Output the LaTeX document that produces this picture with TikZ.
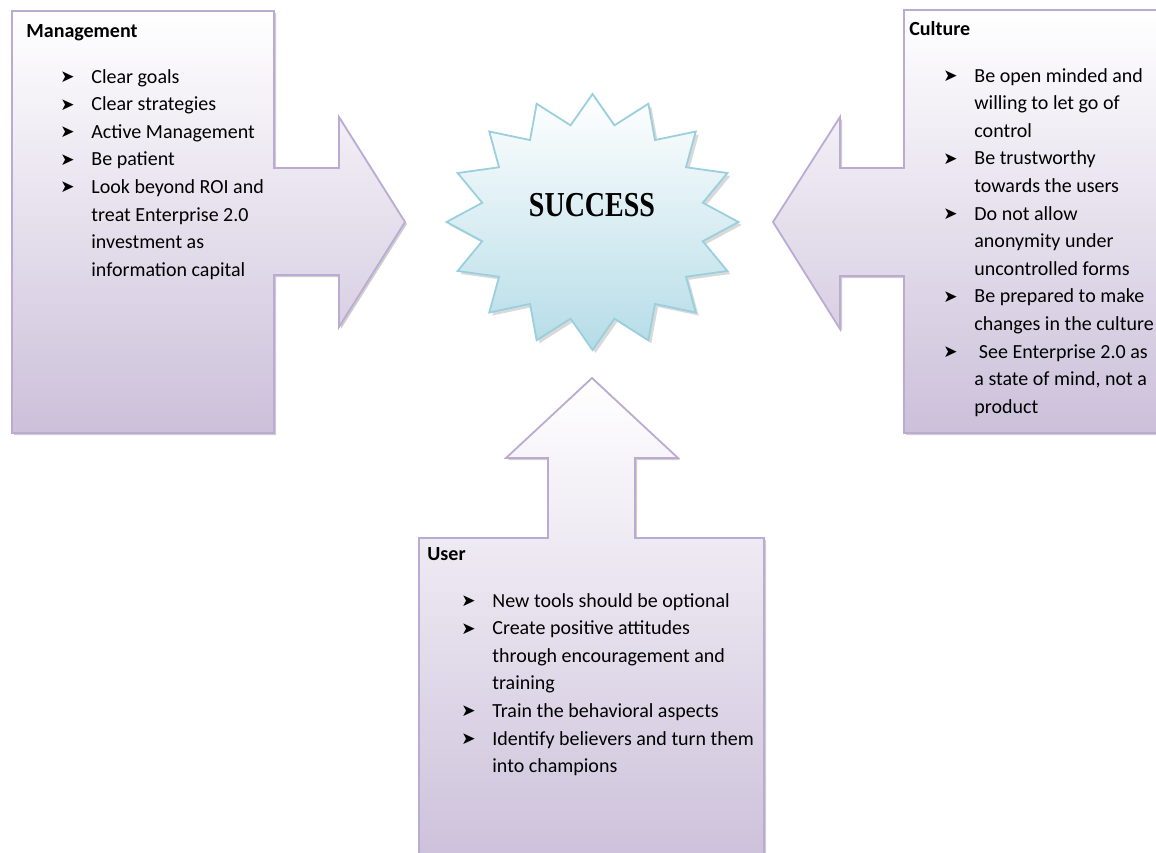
\documentclass[tikz,border=0pt]{standalone}
\usepackage{fontspec}
\setmainfont{Carlito}
\newfontfamily\dingfont{DejaVu Sans}
\newfontfamily\starfont{Liberation Serif}[FakeStretch=0.8]
\usepackage{tikz}
\usetikzlibrary{shadows}
\usepackage{xcolor}
\definecolor{calloutfill}{HTML}{CCC0DA}
\definecolor{calloutline}{HTML}{BBABD3}
\definecolor{starfill}{HTML}{B5DCE7}
\definecolor{starline}{HTML}{9ACFDD}

% arrowhead bullet, fixed width so the texts line up
\newcommand{\bul}{\makebox[15.5pt][l]{\raisebox{0.3pt}{\dingfont\fontsize{8.5}{8.5}\selectfont ➤}}}

\begin{document}
\begin{tikzpicture}[x=0.5pt,y=-0.5pt,
  callout/.style={draw=calloutline, line width=0.9pt, top color=white, bottom color=calloutfill,
    drop shadow={shadow xshift=1pt, shadow yshift=-1pt, opacity=0.35, fill=black!55}},
  title/.style={anchor=base west, inner sep=0pt, font=\bfseries\fontsize{10}{12}\selectfont},
  points/.style={anchor=base west, inner sep=0pt, font=\fontsize{10}{13.8}\selectfont}]
  \useasboundingbox (0,0) rectangle (1156,852);
  \clip (0,0) rectangle (1156,852);

  % left callout, arrow pointing right
  \draw[callout] (12,11) -- (274,11) -- (274,168) -- (339,168) -- (339,117) -- (405,222)
    -- (339,327) -- (339,275) -- (274,275) -- (274,433) -- (12,433) -- cycle;
  % right callout, arrow pointing left
  \draw[callout] (904,10) -- (1170,10) -- (1170,433) -- (904,433) -- (904,276) -- (840,276)
    -- (840,329) -- (773,222) -- (840,117) -- (840,168) -- (904,168) -- cycle;
  % bottom callout, arrow pointing up
  \draw[callout] (419,538) -- (548,538) -- (548,458) -- (506,458) -- (592,378) -- (678,458)
    -- (635,458) -- (635,538) -- (764,538) -- (764,870) -- (419,870) -- cycle;

  % 16 point star
  \begin{scope}[shift={(592.5,222)}]
    \draw[draw=starline, line width=0.9pt, top color=white, bottom color=starfill,
      drop shadow={shadow xshift=1.5pt, shadow yshift=-1.5pt, opacity=0.3, fill=black!50}]
      (90:146 and 128)
      \foreach \k [evaluate=\k as \r using {isodd(\k) ? 0.77 : 1}] in {1,...,31} {
        -- ({90+11.25*\k}:{146*\r} and {128*\r})
      } -- cycle;
  \end{scope}
  \node[font=\starfont\bfseries\fontsize{17.5}{20}\selectfont] (success) at (592,205) {SUCCESS};

  \node[title] (mgmt) at (26,37) {Management};
  \node[points] (mgmtlist) at (60,83) {\begin{tabular}[t]{@{}l@{}l@{}}
    \bul & Clear goals\\
    \bul & Clear strategies\\
    \bul & Active Management\\
    \bul & Be patient\\
    \bul & Look beyond ROI and\\
         & treat Enterprise 2.0\\
         & investment as\\
         & information capital
  \end{tabular}};

  \node[title] (culture) at (909,35) {Culture};
  \node[points] (culturelist) at (943,82) {\begin{tabular}[t]{@{}l@{}l@{}}
    \bul & Be open minded and\\
         & willing to let go of\\
         & control\\
    \bul & Be trustworthy\\
         & towards the users\\
    \bul & Do not allow\\
         & anonymity under\\
         & uncontrolled forms\\
    \bul & Be prepared to make\\
         & changes in the culture\\
    \bul & \ See Enterprise 2.0 as\\
         & a state of mind, not a\\
         & product
  \end{tabular}};

  \node[title] (user) at (427,560) {User};
  \node[points] (userlist) at (461,607) {\begin{tabular}[t]{@{}l@{}l@{}}
    \bul & New tools should be optional\\
    \bul & Create positive attitudes\\
         & through encouragement and\\
         & training\\
    \bul & Train the behavioral aspects\\
    \bul & Identify believers and turn them\\
         & into champions
  \end{tabular}};
\end{tikzpicture}
\end{document}
